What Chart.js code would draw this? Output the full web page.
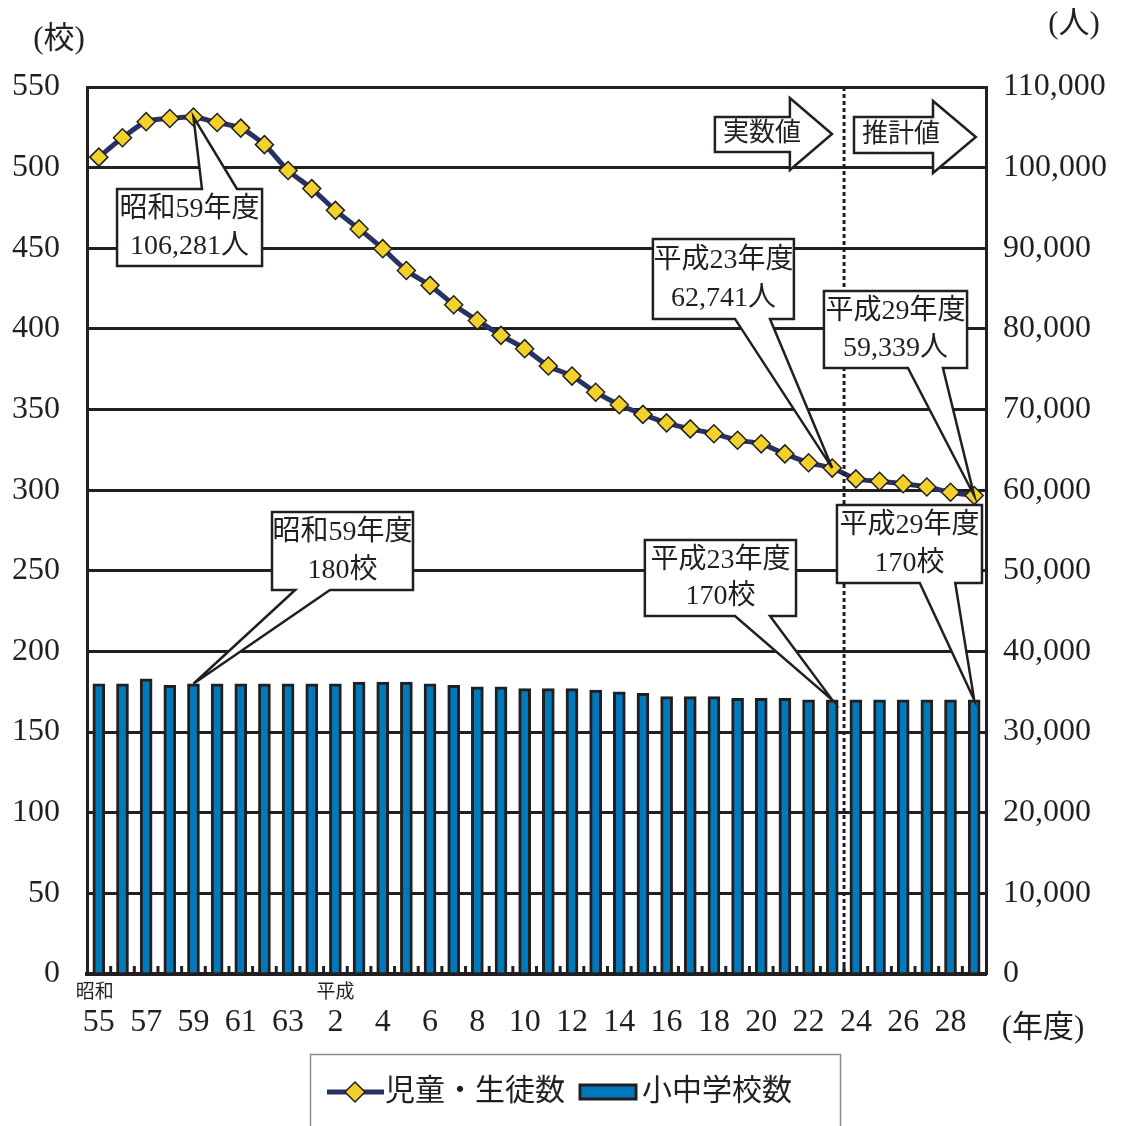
<!DOCTYPE html>
<html lang="ja">
<head>
<meta charset="utf-8">
<title>児童・生徒数と小中学校数の推移</title>
<script src="https://cdn.jsdelivr.net/npm/chart.js@4.4.1/dist/chart.umd.min.js"></script>
<style>
  html, body { margin: 0; padding: 0; background: #fff; }
  #wrap { width: 1121px; height: 1126px; }
</style>
</head>
<body>
<div id="wrap"><canvas id="chart" width="1121" height="1126"></canvas></div>
<script>
"use strict";

// ── Data ─────────────────────────────────────────────────────────────────────

// fiscal years: 昭和55 … 昭和63, 平成元 … 平成29
const YEARS = [
  "55", "56", "57", "58", "59", "60", "61", "62", "63",
  "元", "2", "3", "4", "5", "6", "7", "8", "9", "10",
  "11", "12", "13", "14", "15", "16", "17", "18", "19", "20",
  "21", "22", "23", "24", "25", "26", "27", "28", "29",
];

// 児童・生徒数 (人)
const STUDENTS = [
  101300, 103700, 105700, 106100, 106281, 105600, 104900, 102850, 99650,
  97400, 94700, 92400, 89950, 87250, 85400, 83000, 81050, 79200, 77550,
  75400, 74150, 72150, 70600, 69400, 68350, 67600, 67000, 66200, 65750,
  64500, 63400, 62741, 61400, 61100, 60800, 60400, 59750, 59339,
];

// 小中学校数 (校)
const SCHOOLS = [
  180, 180, 183, 179, 180, 180, 180, 180, 180,
  180, 180, 181, 181, 181, 180, 179, 178, 178, 177,
  177, 177, 176, 175, 174, 172, 172, 172, 171, 171,
  171, 170, 170, 170, 170, 170, 170, 170, 170,
];

const LEFT_MAX = 550, LEFT_STEP = 50;
const RIGHT_MAX = 110000, RIGHT_STEP = 10000;

// boundary between actual values and projections (between 平成23 and 平成24)
const PROJECTION_START = 31.5;

// callouts: box in (category index, left-axis value), pointer to a data value
const CALLOUTS = [
  { lines: ["昭和59年度", "106,281人"], box: [0.77, 6.9, 486.8, 439.0], side: "top",    base: [4.36, 5.84], idx: 4,  series: "students" },
  { lines: ["平成23年度", "62,741人"],  box: [23.42, 29.38, 455.8, 406.2], side: "bottom", base: [26.89, 28.37], idx: 31, series: "students" },
  { lines: ["平成29年度", "59,339人"],  box: [30.65, 36.7, 423.5, 375.8], side: "bottom", base: [34.2, 35.68], idx: 37, series: "students" },
  { lines: ["昭和59年度", "180校"],     box: [7.32, 13.28, 286.5, 238.1], side: "bottom", base: [8.3, 9.77], idx: 4,  series: "schools" },
  { lines: ["平成23年度", "170校"],     box: [23.08, 29.47, 269.1, 222.0], side: "bottom", base: [26.89, 28.37], idx: 31, series: "schools" },
  { lines: ["平成29年度", "170校"],     box: [31.2, 37.33, 290.8, 242.5], side: "bottom", base: [34.7, 36.2], idx: 37, series: "schools" },
];

// block arrows: [bodyLeft, headLeft, tip] as category index, heights in left-axis units
const ARROWS = [
  { text: "実数値", x: [26.04, 29.21, 30.99], body: [531.4, 509.7], head: [543.2, 498.5] },
  { text: "推計値", x: [31.92, 35.26, 37.07], body: [531.4, 509.1], head: [541.3, 496.7] },
];

// ── Style ────────────────────────────────────────────────────────────────────

const FONT = '"Liberation Serif", "Noto Sans CJK JP", serif';
const INK = "#231f20";
const BAR_BLUE = "#0079bd";
const LINE_NAVY = "#283264";
const DIAMOND_YELLOW = "#f2d22a";

function font(size) {
  return `${size}px ${FONT}`;
}

// ── Overlay drawing ──────────────────────────────────────────────────────────

function drawCallout(ctx, c, xs, ys, apex) {
  const l = xs.getPixelForValue(c.box[0]);
  const r = xs.getPixelForValue(c.box[1]);
  const t = ys.getPixelForValue(c.box[2]);
  const b = ys.getPixelForValue(c.box[3]);
  const b1 = xs.getPixelForValue(c.base[0]);
  const b2 = xs.getPixelForValue(c.base[1]);

  ctx.beginPath();
  if (c.side === "top") {
    ctx.moveTo(l, t);
    ctx.lineTo(b1, t);
    ctx.lineTo(apex.x, apex.y);
    ctx.lineTo(b2, t);
    ctx.lineTo(r, t);
    ctx.lineTo(r, b);
    ctx.lineTo(l, b);
  } else {
    ctx.moveTo(l, t);
    ctx.lineTo(r, t);
    ctx.lineTo(r, b);
    ctx.lineTo(b2, b);
    ctx.lineTo(apex.x, apex.y);
    ctx.lineTo(b1, b);
    ctx.lineTo(l, b);
  }
  ctx.closePath();
  ctx.fillStyle = "#fff";
  ctx.fill();
  ctx.lineWidth = 2.5;
  ctx.strokeStyle = INK;
  ctx.lineJoin = "miter";
  ctx.stroke();

  ctx.fillStyle = INK;
  ctx.font = font(28);
  ctx.textAlign = "center";
  ctx.textBaseline = "middle";
  const cx = (l + r) / 2;
  const h = b - t;
  ctx.fillText(c.lines[0], cx, t + h * 0.27);
  ctx.fillText(c.lines[1], cx, t + h * 0.75);
}

function drawArrow(ctx, a, xs, ys) {
  const [x0, x1, x2] = a.x.map(v => xs.getPixelForValue(v));
  const [bt, bb] = a.body.map(v => ys.getPixelForValue(v));
  const [ht, hb] = a.head.map(v => ys.getPixelForValue(v));
  const tipY = (ht + hb) / 2;

  ctx.beginPath();
  ctx.moveTo(x0, bt);
  ctx.lineTo(x1, bt);
  ctx.lineTo(x1, ht);
  ctx.lineTo(x2, tipY);
  ctx.lineTo(x1, hb);
  ctx.lineTo(x1, bb);
  ctx.lineTo(x0, bb);
  ctx.closePath();
  ctx.fillStyle = "#fff";
  ctx.fill();
  ctx.lineWidth = 2.5;
  ctx.strokeStyle = INK;
  ctx.lineJoin = "miter";
  ctx.stroke();

  ctx.fillStyle = INK;
  ctx.font = font(26);
  ctx.textAlign = "left";
  ctx.textBaseline = "middle";
  ctx.fillText(a.text, x0 + 8, (bt + bb) / 2);
}

const overlayPlugin = {
  id: "overlay",
  afterDatasetsDraw(chart) {
    const { ctx, chartArea, scales } = chart;
    const xs = scales.x, ys = scales.y, y2 = scales.y2;

    ctx.save();
    // dotted divider between 実数値 and 推計値
    const dx = xs.getPixelForValue(PROJECTION_START);
    ctx.beginPath();
    ctx.setLineDash([4, 3]);
    ctx.lineWidth = 3;
    ctx.strokeStyle = INK;
    ctx.moveTo(dx, chartArea.top);
    ctx.lineTo(dx, chartArea.bottom);
    ctx.stroke();
    ctx.setLineDash([]);

    ARROWS.forEach(a => drawArrow(ctx, a, xs, ys));

    CALLOUTS.forEach(c => {
      const apex = c.series === "students"
        ? { x: xs.getPixelForValue(c.idx), y: y2.getPixelForValue(STUDENTS[c.idx]) }
        : { x: xs.getPixelForValue(c.idx), y: ys.getPixelForValue(SCHOOLS[c.idx]) };
      drawCallout(ctx, c, xs, ys, apex);
    });
    ctx.restore();
  },

  afterDraw(chart) {
    const { ctx, chartArea, scales } = chart;
    const xs = scales.x;
    ctx.save();

    // short inward tick marks between categories
    ctx.strokeStyle = INK;
    ctx.lineWidth = 3;
    ctx.beginPath();
    for (let i = 1; i < YEARS.length; i++) {
      const px = xs.getPixelForValue(i - 0.5);
      ctx.moveTo(px, chartArea.bottom);
      ctx.lineTo(px, chartArea.bottom - 8);
    }
    ctx.stroke();

    // unit labels
    ctx.fillStyle = INK;
    ctx.textBaseline = "middle";
    ctx.textAlign = "center";
    ctx.font = font(31);
    ctx.fillText("(校)", chartArea.left - 28, 40);
    ctx.fillText("(人)", chartArea.right + 88, 25);
    ctx.fillText("(年度)", chartArea.right + 57, 1029);

    // era labels above the year ticks
    ctx.font = font(19);
    ctx.fillText("昭和", xs.getPixelForValue(0) - 4, 993);
    ctx.fillText("平成", xs.getPixelForValue(10), 993);

    // legend
    ctx.lineWidth = 1.5;
    ctx.strokeStyle = "#8c8c8c";
    ctx.strokeRect(310.5, 1054.5, 530, 100);

    const ly = 1092;
    ctx.beginPath();
    ctx.lineWidth = 5;
    ctx.strokeStyle = LINE_NAVY;
    ctx.moveTo(327, ly);
    ctx.lineTo(384, ly);
    ctx.stroke();
    ctx.beginPath();
    ctx.moveTo(355, ly - 10);
    ctx.lineTo(365, ly);
    ctx.lineTo(355, ly + 10);
    ctx.lineTo(345, ly);
    ctx.closePath();
    ctx.fillStyle = DIAMOND_YELLOW;
    ctx.fill();
    ctx.lineWidth = 1.5;
    ctx.strokeStyle = INK;
    ctx.stroke();

    ctx.fillStyle = BAR_BLUE;
    ctx.fillRect(580, ly - 7, 56, 14);
    ctx.lineWidth = 3;
    ctx.strokeStyle = INK;
    ctx.strokeRect(580, ly - 7, 56, 14);

    ctx.fillStyle = INK;
    ctx.font = font(30);
    ctx.textAlign = "left";
    ctx.fillText("児童・生徒数", 385, ly);
    ctx.fillText("小中学校数", 642, ly);

    ctx.restore();
  },
};

// ── Chart ────────────────────────────────────────────────────────────────────

new Chart(document.getElementById("chart"), {
  type: "bar",
  data: {
    labels: YEARS,
    datasets: [
      {
        type: "line",
        label: "児童・生徒数",
        data: STUDENTS,
        yAxisID: "y2",
        order: 0,
        borderColor: LINE_NAVY,
        borderWidth: 5,
        tension: 0.25,
        pointStyle: "rectRot",
        pointRadius: 9,
        pointBackgroundColor: DIAMOND_YELLOW,
        pointBorderColor: INK,
        pointBorderWidth: 1.5,
      },
      {
        type: "bar",
        label: "小中学校数",
        data: SCHOOLS,
        yAxisID: "y",
        order: 1,
        backgroundColor: BAR_BLUE,
        borderColor: INK,
        borderWidth: 3,
        barThickness: 12,
      },
    ],
  },
  options: {
    responsive: false,
    animation: false,
    layout: { padding: { top: 87, left: 0, right: 0, bottom: 0 } },
    plugins: {
      legend: { display: false },
      tooltip: { enabled: false },
    },
    scales: {
      x: {
        offset: true,
        grid: { display: false, drawTicks: false },
        border: { display: true, color: INK, width: 4 },
        ticks: {
          autoSkip: false,
          maxRotation: 0,
          padding: 29,
          color: INK,
          font: { family: FONT, size: 32 },
          callback: function (val, i) {
            return i % 2 === 0 ? this.getLabelForValue(val) : "";
          },
        },
        afterFit: s => { s.height = 152; },
      },
      y: {
        position: "left",
        min: 0,
        max: LEFT_MAX,
        grid: { color: INK, lineWidth: 3, drawTicks: false },
        border: { display: true, color: INK, width: 3 },
        ticks: {
          stepSize: LEFT_STEP,
          padding: 27,
          color: INK,
          font: { family: FONT, size: 32 },
        },
        afterFit: s => { s.width = 87; },
      },
      y2: {
        position: "right",
        min: 0,
        max: RIGHT_MAX,
        grid: { display: false, drawTicks: false },
        border: { display: true, color: INK, width: 3 },
        ticks: {
          stepSize: RIGHT_STEP,
          padding: 17,
          color: INK,
          font: { family: FONT, size: 32 },
          callback: v => v.toLocaleString("en-US"),
        },
        afterFit: s => { s.width = 135; },
      },
    },
  },
  plugins: [overlayPlugin],
});
</script>
</body>
</html>
